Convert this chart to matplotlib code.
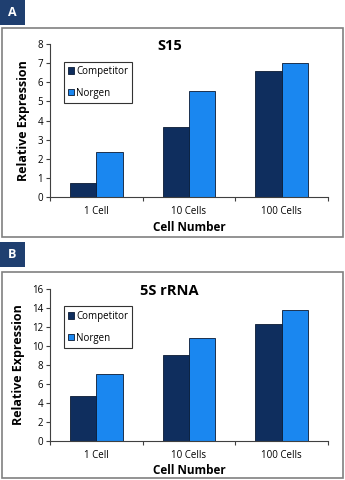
import matplotlib.pyplot as plt
import numpy as np
from matplotlib.patches import Rectangle

categories = ['1 Cell', '10 Cells', '100 Cells']
s15_competitor = [0.75, 3.66, 6.57]
s15_norgen = [2.36, 5.55, 7.0]
rrna_competitor = [4.74, 9.09, 12.3]
rrna_norgen = [7.05, 10.8, 13.8]

dark = '#0f2e5e'
light = '#1a87f0'
navy = '#1f3f70'

plt.rcParams['font.family'] = ['Open Sans', 'DejaVu Sans']

fig = plt.figure(figsize=(3.45, 4.8), dpi=100)


def panel(letter, box_y0, box_h, tag_y0, ax_rect, title, comp, norg, ymax, ystep):
    # grey frame around each panel and the letter tag
    fig.patches.append(Rectangle((0.006, box_y0), 0.988, box_h, transform=fig.transFigure,
                                 fill=False, edgecolor='#808080', linewidth=1.2))
    fig.patches.append(Rectangle((0.0, tag_y0), 0.0725, 0.052, transform=fig.transFigure,
                                 facecolor=navy, edgecolor='none'))
    fig.text(0.036, tag_y0 + 0.026, letter, color='white', fontsize=9, fontweight='bold',
             ha='center', va='center')

    ax = fig.add_axes(ax_rect)
    x = np.arange(len(categories))
    w = 0.285
    ax.bar(x - w / 2, comp, w, color=dark, edgecolor='#0a1a33', linewidth=0.6, label='Competitor')
    ax.bar(x + w / 2, norg, w, color=light, edgecolor='#0a1a33', linewidth=0.6, label='Norgen')

    ax.set_xlim(-0.5, 2.5)
    ax.set_ylim(0, ymax)
    ax.set_yticks(np.arange(0, ymax + 1, ystep))
    ax.set_xticks(x)
    ax.set_xticklabels(categories)
    ax.set_xticks([-0.5, 0.5, 1.5, 2.5], minor=True)
    ax.tick_params(axis='x', which='major', length=0, labelsize=7, pad=6.5)
    ax.tick_params(axis='x', which='minor', length=3, width=0.8, color='#404040')
    ax.tick_params(axis='y', length=3, width=0.8, color='#404040', labelsize=7, pad=2)

    for side in ['top', 'right']:
        ax.spines[side].set_visible(False)
    for side in ['left', 'bottom']:
        ax.spines[side].set_color('#404040')
        ax.spines[side].set_linewidth(0.8)

    ax.set_title(title, fontsize=10.5, fontweight='bold', x=0.43, y=0.985, pad=0, va='center')
    ax.set_ylabel('Relative Expression', fontsize=9, fontweight='bold', labelpad=5)
    ax.set_xlabel('Cell Number', fontsize=8.5, fontweight='bold', va='center')
    ax.xaxis.set_label_coords(0.5, -0.197)

    leg = ax.legend(loc='upper left', bbox_to_anchor=(0.05, 0.885), borderaxespad=0,
                    fontsize=7, frameon=True, fancybox=False, handlelength=0.6,
                    handleheight=0.6, handletextpad=0.2, labelspacing=1.1,
                    borderpad=0.45)
    leg.get_frame().set_edgecolor('black')
    leg.get_frame().set_linewidth(0.8)
    return ax


panel('A', 0.50625, 0.4354, 0.948, [0.1449, 0.5896, 0.8058, 0.3187],
      'S15', s15_competitor, s15_norgen, 8, 1)
panel('B', 0.00417, 0.429, 0.444, [0.1449, 0.08125, 0.8058, 0.3167],
      '5S rRNA', rrna_competitor, rrna_norgen, 16, 2)

fig.savefig('out.png', dpi=100)
